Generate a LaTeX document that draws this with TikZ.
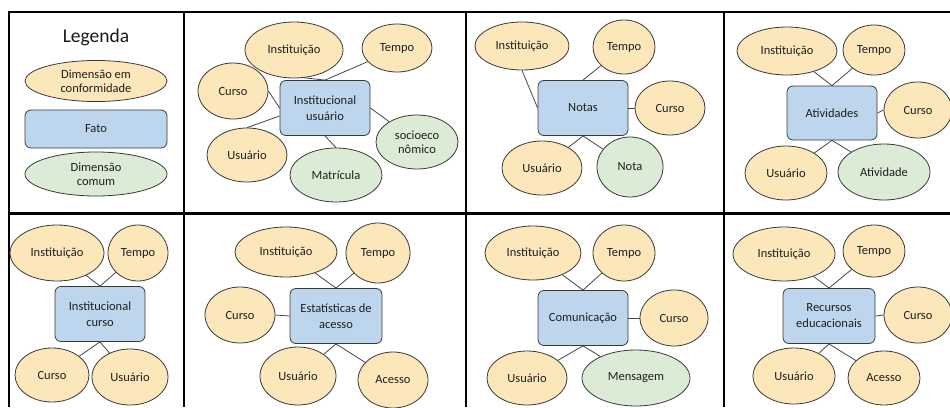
\documentclass[tikz,border=0pt]{standalone}
\usepackage{fontspec}
\setmainfont{Carlito}
\usetikzlibrary{shapes.geometric}
\definecolor{beigec}{HTML}{FCE7BA}
\definecolor{bluec}{HTML}{BDD6EE}
\definecolor{greenc}{HTML}{DCEBD5}
\definecolor{edgec}{HTML}{3A3A3A}
\definecolor{linec}{HTML}{474747}
\tikzset{
  sz/.style 2 args={minimum width=#1pt,minimum height=#2pt},
  dim/.style={ellipse,draw=edgec,line width=0.8pt,fill=beigec,inner sep=0pt,align=center,text=black!88,font=\fontsize{12.5}{14}\selectfont},
  dcom/.style={dim,fill=greenc},
  fact/.style={rectangle,rounded corners=6pt,draw=edgec,line width=0.8pt,fill=bluec,inner sep=0pt,align=center,text=black!88,font=\fontsize{12.5}{16}\selectfont},
  conn/.style={draw=linec,line width=0.8pt},
  gridline/.style={draw=black,line width=2pt},
  gridthick/.style={draw=black,line width=3pt}
}
\begin{document}
\begin{tikzpicture}[x=1pt,y=-1pt]
\useasboundingbox (0,0) rectangle (950,407);
\fill[white] (0,0) rectangle (950,407);
% table grid
\draw[gridline] (9,407) -- (9,12) -- (950,12);
\draw[gridthick] (9,213) -- (950,213);
\draw[gridline] (184,12) -- (184,407);
\draw[gridline] (466,12) -- (466,407);
\draw[gridline] (724,12) -- (724,407);

% Panel 1: legend
\node[font=\fontsize{19.5}{22}\selectfont,text=black!90] (leg) at (96,37) {Legenda};
\node[dim,sz={142}{41}] (legdc) at (96,81) {Dimensão em\\conformidade};
\node[fact,sz={142}{38}] (legf) at (96,129) {Fato};
\node[dcom,sz={142}{44}] (legdm) at (96,174) {Dimensão\\comum};

% Panel 2
\node[fact,sz={90}{55}] (f2) at (325,108) {Institucional\\usuário};
\node[dim,sz={98}{56}] (inst2) at (294,50) {Instituição};
\node[dim,sz={70}{48}] (tempo2) at (397,48) {Tempo};
\node[dim,sz={70}{56}] (curso2) at (233,91) {Curso};
\node[dim,sz={80}{54}] (usu2) at (247,155) {Usuário};
\node[dcom,sz={92}{54}] (mat2) at (336,175) {Matrícula};
\node[dcom,sz={82}{54}] (soc2) at (417,142) {socioeco\\nômico};
\draw[conn] (f2.north) -- (inst2.-70);
\draw[conn] (f2.north) -- (tempo2.-155);
\draw[conn] (f2.west) -- (curso2.east);
\draw[conn] (f2.190) -- (usu2.north);
\draw[conn] (f2.south) -- (mat2.north);
\draw[conn] (f2.east) -- (soc2);

% Panel 3
\node[fact,sz={90}{55}] (f3) at (583,108) {Notas};
\node[dim,sz={94}{48}] (inst3) at (522,46) {Instituição};
\node[dim,sz={62}{54}] (tempo3) at (624,47) {Tempo};
\node[dim,sz={70}{54}] (curso3) at (670,108) {Curso};
\node[dim,sz={80}{54}] (usu3) at (542,168) {Usuário};
\node[dcom,sz={66}{60}] (nota3) at (630,167) {Nota};
\draw[conn] (f3.west) -- (inst3.south);
\draw[conn] (f3.north) -- (tempo3);
\draw[conn] (f3.east) -- (curso3.west);
\draw[conn] (f3.south) -- (usu3);
\draw[conn] (f3.south) -- (nota3);

% Panel 4
\node[fact,sz={90}{54}] (f4) at (832,113) {Atividades};
\node[dim,sz={100}{48}] (inst4) at (787,51) {Instituição};
\node[dim,sz={62}{50}] (tempo4) at (874,50) {Tempo};
\node[dim,sz={68}{56}] (curso4) at (918,110) {Curso};
\node[dim,sz={82}{54}] (usu4) at (786,173) {Usuário};
\node[dcom,sz={92}{56}] (ativ4) at (884,172) {Atividade};
\draw[conn] (f4.north) -- (inst4);
\draw[conn] (f4.north) -- (tempo4);
\draw[conn] (f4.east) -- (curso4.west);
\draw[conn] (f4.south) -- (usu4);
\draw[conn] (f4.south) -- (ativ4);

% Panel 5
\node[fact,sz={90}{55}] (f5) at (100,314) {Institucional\\curso};
\node[dim,sz={94}{56}] (inst5) at (57,253) {Instituição};
\node[dim,sz={60}{56}] (tempo5) at (138,253) {Tempo};
\node[dim,sz={74}{54}] (curso5) at (52,375) {Curso};
\node[dim,sz={76}{56}] (usu5) at (130,377) {Usuário};
\draw[conn] (f5.north) -- (inst5);
\draw[conn] (f5.north) -- (tempo5);
\draw[conn] (f5.south) -- (curso5);
\draw[conn] (f5.south) -- (usu5);

% Panel 6
\node[fact,sz={92}{55}] (f6) at (336,316) {Estatísticas de\\acesso};
\node[dim,sz={102}{50}] (inst6) at (286,252) {Instituição};
\node[dim,sz={64}{60}] (tempo6) at (378,253) {Tempo};
\node[dim,sz={70}{56}] (curso6) at (240,315) {Curso};
\node[dim,sz={76}{58}] (usu6) at (298,376) {Usuário};
\node[dim,sz={70}{56}] (aces6) at (393,380) {Acesso};
\draw[conn] (f6.north) -- (inst6);
\draw[conn] (f6.north) -- (tempo6);
\draw[conn] (f6.west) -- (curso6.east);
\draw[conn] (f6.south) -- (usu6);
\draw[conn] (f6.south) -- (aces6);

% Panel 7
\node[fact,sz={90}{55}] (f7) at (583,318) {Comunicação};
\node[dim,sz={96}{54}] (inst7) at (533,253) {Instituição};
\node[dim,sz={62}{56}] (tempo7) at (624,253) {Tempo};
\node[dim,sz={68}{56}] (curso7) at (674,318) {Curso};
\node[dim,sz={80}{54}] (usu7) at (527,378) {Usuário};
\node[dcom,sz={108}{56}] (msg7) at (636,378) {Mensagem};
\draw[conn] (f7.north) -- (inst7);
\draw[conn] (f7.north) -- (tempo7);
\draw[conn] (f7.east) -- (curso7.west);
\draw[conn] (f7.south) -- (usu7);
\draw[conn] (f7.south) -- (msg7);

% Panel 8
\node[fact,sz={92}{55}] (f8) at (829,316) {Recursos\\educacionais};
\node[dim,sz={102}{54}] (inst8) at (784,254) {Instituição};
\node[dim,sz={62}{52}] (tempo8) at (874,251) {Tempo};
\node[dim,sz={68}{56}] (curso8) at (918,315) {Curso};
\node[dim,sz={82}{56}] (usu8) at (794,376) {Usuário};
\node[dim,sz={72}{54}] (aces8) at (884,378) {Acesso};
\draw[conn] (f8.north) -- (inst8);
\draw[conn] (f8.north) -- (tempo8);
\draw[conn] (f8.east) -- (curso8.west);
\draw[conn] (f8.south) -- (usu8);
\draw[conn] (f8.south) -- (aces8);
\end{tikzpicture}
\end{document}
